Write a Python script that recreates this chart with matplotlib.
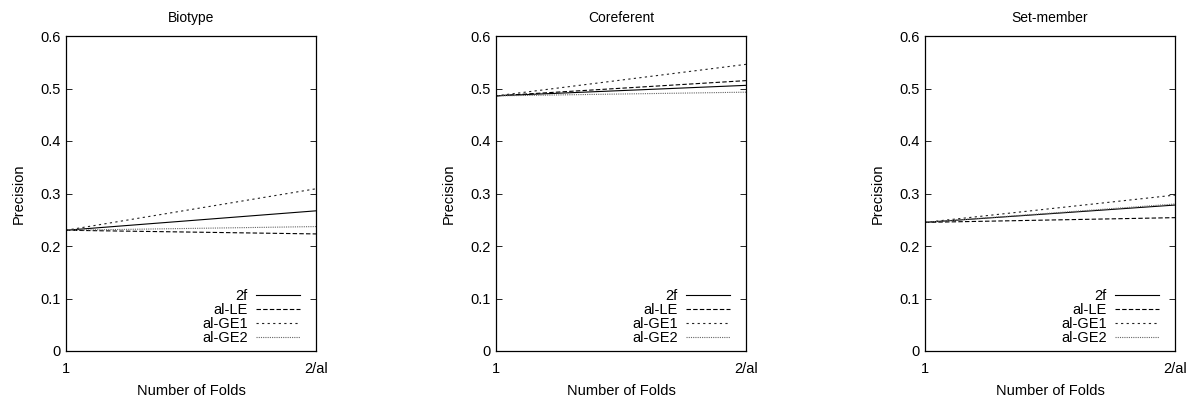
import matplotlib
matplotlib.use("Agg")
import matplotlib.pyplot as plt

plt.rcParams['font.family'] = ['Liberation Sans', 'DejaVu Sans']
plt.rcParams['font.size'] = 10

# Data
x_labels = ['1', '2/al']
panels = ['Biotype', 'Coreferent', 'Set-member']
series = ['2f', 'al-LE', 'al-GE1', 'al-GE2']

biotype = {
    '2f': [0.230, 0.267],
    'al-LE': [0.230, 0.223],
    'al-GE1': [0.230, 0.309],
    'al-GE2': [0.230, 0.237],
}
coreferent = {
    '2f': [0.486, 0.506],
    'al-LE': [0.486, 0.515],
    'al-GE1': [0.486, 0.546],
    'al-GE2': [0.486, 0.493],
}
setmember = {
    '2f': [0.245, 0.278],
    'al-LE': [0.245, 0.254],
    'al-GE1': [0.245, 0.297],
    'al-GE2': [0.245, 0.280],
}
data = [biotype, coreferent, setmember]

styles = {
    '2f': dict(color='black', linestyle='-'),
    'al-LE': dict(color='black', linestyle=(0, (4, 2))),
    'al-GE1': dict(color='#222222', linestyle=(0, (2, 3))),
    'al-GE2': dict(color='#666666', linestyle=(0, (1, 1))),
}

W, H = 1195, 399
fig = plt.figure(figsize=(W / 100, H / 100), dpi=100)

lefts = [66, 496, 925]
ax_w = 250
top, bottom = 36, 351

for left, name, d in zip(lefts, panels, data):
    ax = fig.add_axes([left / W, 1 - bottom / H, ax_w / W, (bottom - top) / H])
    xs = [0, 1]
    for s in series:
        ax.plot(xs, d[s], linewidth=0.8, label=s, **styles[s])
    ax.set_xlim(0, 1)
    ax.set_ylim(0, 0.6)
    ax.set_xticks(xs)
    ax.set_xticklabels(x_labels)
    ax.set_yticks([0, 0.1, 0.2, 0.3, 0.4, 0.5, 0.6])
    ax.set_yticklabels(['0', '0.1', '0.2', '0.3', '0.4', '0.5', '0.6'])
    ax.tick_params(direction='in', length=4, width=0.6, right=True, top=False, labelsize=10.5, pad=4)
    ax.tick_params(axis='x', pad=8)
    for sp in ax.spines.values():
        sp.set_linewidth(0.9)
    ax.set_title(name, fontsize=10, pad=10)
    ax.set_xlabel('Number of Folds', fontsize=10.5, labelpad=6)
    ax.set_ylabel('Precision', fontsize=10.5, labelpad=10)
    ax.legend(loc='lower right', frameon=False, markerfirst=False, fontsize=10.5,
              handlelength=3.0, handletextpad=0.6, labelspacing=0.0,
              borderaxespad=0.0, borderpad=0.4,
              bbox_to_anchor=(0.96, 0.0))

fig.savefig('out.png', dpi=100)
